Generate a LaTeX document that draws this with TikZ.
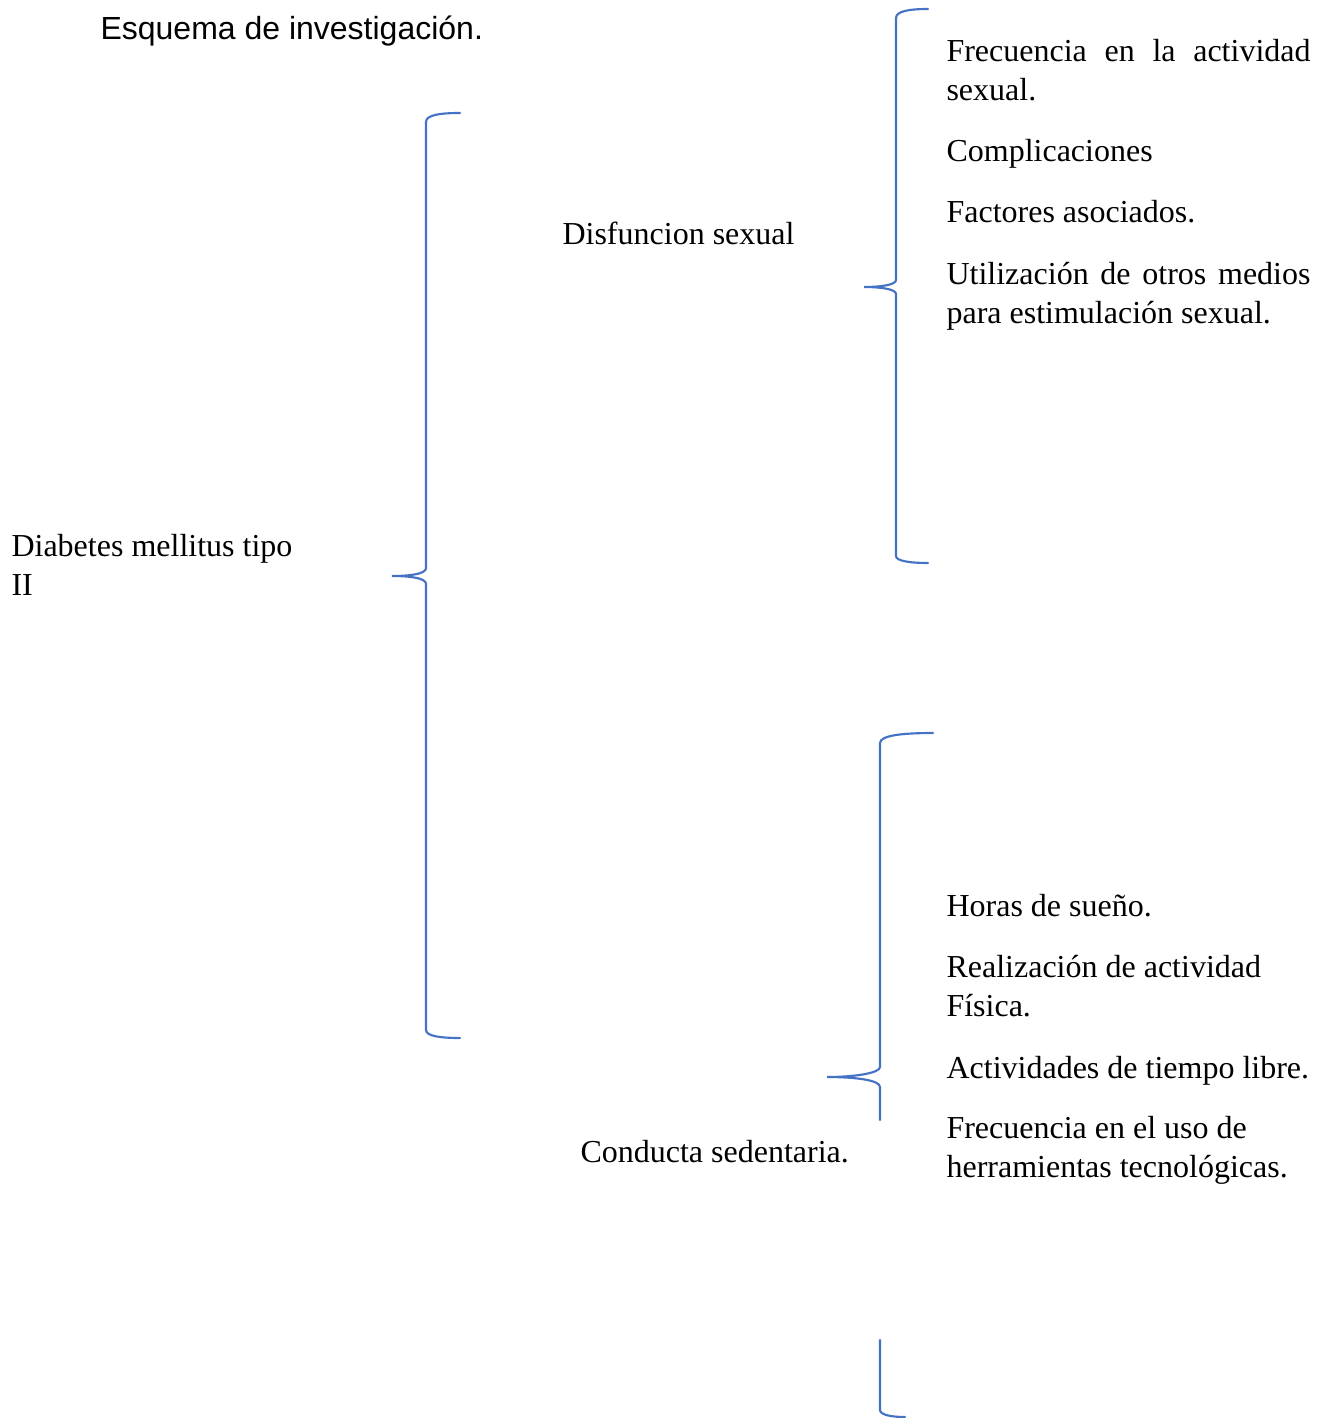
\documentclass[tikz,border=0pt]{standalone}
\usepackage{fontspec}
\setmainfont{Liberation Serif}
\newfontfamily\titlefont{Liberation Sans}
\usetikzlibrary{positioning}
\definecolor{braceblue}{HTML}{4472C4}
\tolerance=9999
\hyphenpenalty=10000

\begin{document}
\begin{tikzpicture}[x = 0.375pt, y = -0.375pt]
	\tikzstyle{textStyle} = [anchor = north west, inner sep = 0pt, align = left, font = \fontsize{12}{14.8}\selectfont]
	\tikzstyle{justStyle} = [textStyle, text width = 136.5pt, align = justify]
	\tikzstyle{braceStyle} = [draw = braceblue, line width = 0.8pt, line cap = round]
	\useasboundingbox (0, 0) rectangle (1320, 1418);
	% titulo
	\node[anchor = base west, inner sep = 0pt, font = \titlefont\fontsize{12}{14.8}\selectfont] (titulo) at (100, 40) {Esquema de investigación.};
	% columna izquierda
	\node[textStyle] (dm) at (11, 528) {\strut Diabetes mellitus tipo\\II};
	\node[textStyle] (ds) at (562, 216) {\strut Disfuncion sexual};
	\node[textStyle] (cs) at (580, 1134) {\strut Conducta sedentaria.};
	% disfuncion sexual
	\node[justStyle] (ds1) at (946, 33) {\strut Frecuencia en la actividad sexual.};
	\node[textStyle] (ds2) at (946, 133) {\strut Complicaciones};
	\node[textStyle] (ds3) at (946, 194) {\strut Factores asociados.};
	\node[justStyle] (ds4) at (946, 256) {\strut Utilización de otros medios para estimulación sexual.};
	% conducta sedentaria
	\node[textStyle] (cs1) at (946, 888) {\strut Horas de sueño.};
	\node[textStyle] (cs2) at (946, 949) {\strut Realización de actividad\\Física.};
	\node[textStyle] (cs3) at (946, 1050) {\strut Actividades de tiempo libre.};
	\node[textStyle] (cs4) at (946, 1110) {\strut Frecuencia en el uso de\\herramientas tecnológicas.};
	% llaves
	\draw[braceStyle] (460, 113) .. controls (440, 113) and (426, 115) .. (426, 122) -- (426, 568)
		.. controls (426, 574) and (410, 576) .. (392, 576)
		.. controls (410, 576) and (426, 578) .. (426, 584) -- (426, 1030)
		.. controls (426, 1036) and (440, 1038) .. (460, 1038);
	\draw[braceStyle] (928, 9) .. controls (910, 9) and (896, 11) .. (896, 18) -- (896, 280)
		.. controls (896, 285) and (880, 287) .. (864, 287)
		.. controls (880, 287) and (896, 289) .. (896, 294) -- (896, 556)
		.. controls (896, 561) and (910, 563) .. (928, 563);
	\draw[braceStyle] (933, 733) .. controls (905, 733) and (880, 735) .. (880, 743) -- (880, 1067)
		.. controls (880, 1073) and (855, 1077) .. (827, 1077)
		.. controls (855, 1077) and (880, 1080) .. (880, 1087) -- (880, 1120);
	\draw[braceStyle] (880, 1340) -- (880, 1410) .. controls (880, 1415) and (892, 1417) .. (905, 1417);
\end{tikzpicture}
\end{document}
